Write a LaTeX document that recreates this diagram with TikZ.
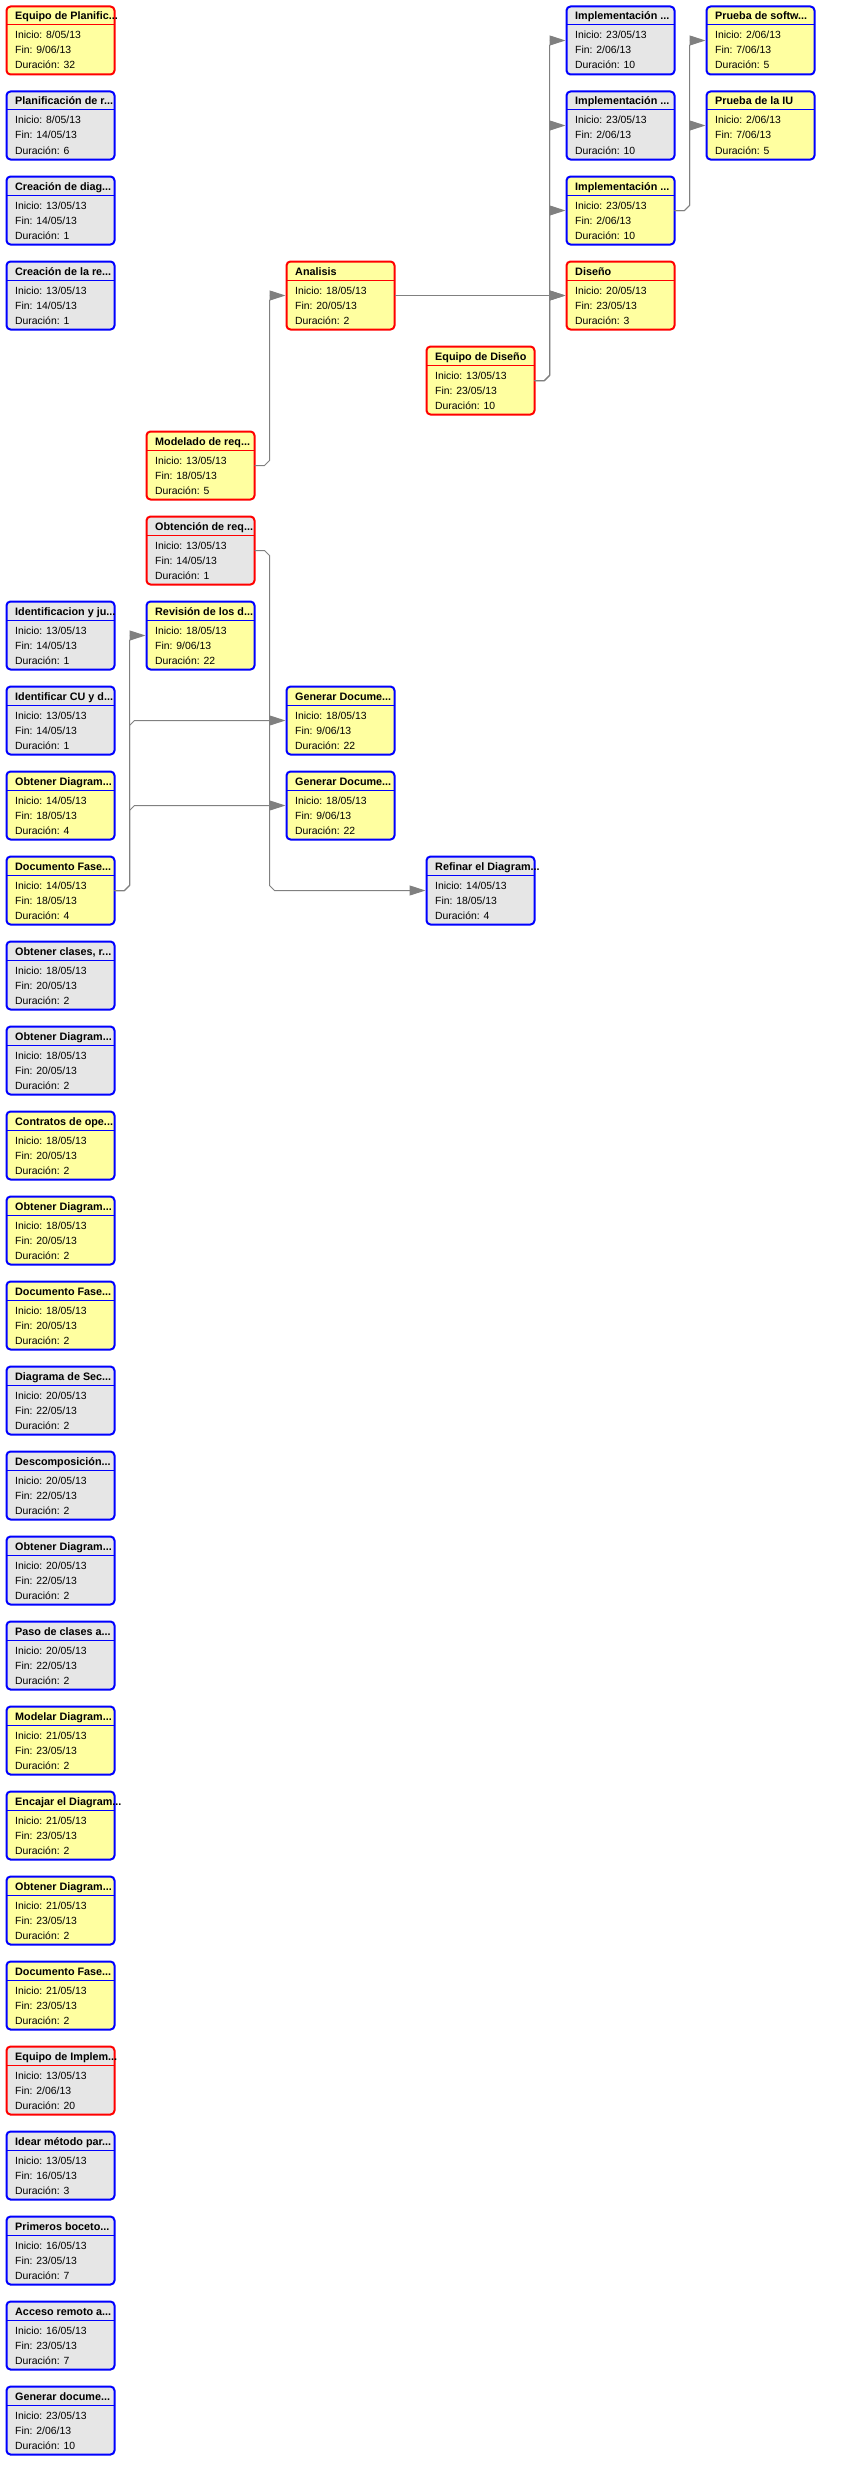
\documentclass[tikz,border=0pt]{standalone}
\usepackage{fontspec}
\setmainfont{Liberation Sans}
\usetikzlibrary{calc,arrows.meta}

\definecolor{taskyellow}{RGB}{255,255,160}
\definecolor{taskgray}{RGB}{230,230,230}
\definecolor{critred}{RGB}{255,0,0}
\definecolor{normblue}{RGB}{0,0,255}
\definecolor{linkgray}{RGB}{128,128,128}

\tikzset{
  taskframe/.style={rectangle, rounded corners=4pt, line width=2pt,
    minimum width=108pt, minimum height=68pt, inner sep=0pt, outer sep=0pt},
  taskhead/.style={anchor=base west, inner sep=0pt,
    font=\fontsize{10.8pt}{12pt}\selectfont\bfseries},
  taskline/.style={anchor=base west, inner sep=0pt,
    font=\fontsize{10.4pt}{12pt}\selectfont},
  linkline/.style={draw=linkgray, line width=1pt,
    -{Triangle[length=16pt,width=10pt]}, shorten >=1pt}
}

% #1 name, #2 column, #3 row, #4 fill, #5 frame colour,
% #6 title, #7 start, #8 finish, #9 duration
\newcommand{\pertnode}[9]{%
  \node[taskframe, fill=#4, draw=#5, anchor=north west] (#1)
    at ({6.5+140*#2},{6.5+85*#3}) {};
  \draw[draw=#5, line width=1pt]
    ([yshift=-18.5pt]#1.north west) -- ([yshift=-18.5pt]#1.north east);
  \node[taskhead] at ([xshift=8.5pt,yshift=-13.5pt]#1.north west) {#6};
  \node[taskline] at ([xshift=8.5pt,yshift=-32.5pt]#1.north west) {Inicio: #7};
  \node[taskline] at ([xshift=8.5pt,yshift=-47.5pt]#1.north west) {Fin: #8};
  \node[taskline] at ([xshift=8.5pt,yshift=-62.5pt]#1.north west) {Duración: #9};
}

% dependency: out of the right side, bevelled turn, vertical run, into the left side
\newcommand{\pertlink}[2]{%
  \draw[linkline] let \p1=(#1.east), \p2=(#2.west), \n1={sign(\y2-\y1)} in
    (\p1) -- ({\x1+10pt},{\y1}) -- ({\x1+15pt},{\y1+5pt*\n1})
    -- ({\x1+15pt},{\y2-5pt*\n1}) -- ({\x1+20pt},{\y2}) -- (\p2);
}

\begin{document}
\begin{tikzpicture}[x=1pt,y=-1pt]
\fill[white] (0,0) rectangle (845,2470);
\useasboundingbox (0,0) rectangle (845,2470);

% column 0
\pertnode{ep}{0}{0}{taskyellow}{critred}{Equipo de Planific...}{8/05/13}{9/06/13}{32}
\pertnode{pl}{0}{1}{taskgray}{normblue}{Planificación de r...}{8/05/13}{14/05/13}{6}
\pertnode{cd}{0}{2}{taskgray}{normblue}{Creación de diag...}{13/05/13}{14/05/13}{1}
\pertnode{cr}{0}{3}{taskgray}{normblue}{Creación de la re...}{13/05/13}{14/05/13}{1}
\pertnode{ij}{0}{7}{taskgray}{normblue}{Identificacion y ju...}{13/05/13}{14/05/13}{1}
\pertnode{icu}{0}{8}{taskgray}{normblue}{Identificar CU y d...}{13/05/13}{14/05/13}{1}
\pertnode{oda}{0}{9}{taskyellow}{normblue}{Obtener Diagram...}{14/05/13}{18/05/13}{4}
\pertnode{dfa}{0}{10}{taskyellow}{normblue}{Documento Fase...}{14/05/13}{18/05/13}{4}
\pertnode{oc}{0}{11}{taskgray}{normblue}{Obtener clases, r...}{18/05/13}{20/05/13}{2}
\pertnode{odb}{0}{12}{taskgray}{normblue}{Obtener Diagram...}{18/05/13}{20/05/13}{2}
\pertnode{co}{0}{13}{taskyellow}{normblue}{Contratos de ope...}{18/05/13}{20/05/13}{2}
\pertnode{odc}{0}{14}{taskyellow}{normblue}{Obtener Diagram...}{18/05/13}{20/05/13}{2}
\pertnode{dfb}{0}{15}{taskyellow}{normblue}{Documento Fase...}{18/05/13}{20/05/13}{2}
\pertnode{ds}{0}{16}{taskgray}{normblue}{Diagrama de Sec...}{20/05/13}{22/05/13}{2}
\pertnode{dc}{0}{17}{taskgray}{normblue}{Descomposición...}{20/05/13}{22/05/13}{2}
\pertnode{odd}{0}{18}{taskgray}{normblue}{Obtener Diagram...}{20/05/13}{22/05/13}{2}
\pertnode{pc}{0}{19}{taskgray}{normblue}{Paso de clases a...}{20/05/13}{22/05/13}{2}
\pertnode{md}{0}{20}{taskyellow}{normblue}{Modelar Diagram...}{21/05/13}{23/05/13}{2}
\pertnode{ed}{0}{21}{taskyellow}{normblue}{Encajar el Diagram...}{21/05/13}{23/05/13}{2}
\pertnode{ode}{0}{22}{taskyellow}{normblue}{Obtener Diagram...}{21/05/13}{23/05/13}{2}
\pertnode{dfc}{0}{23}{taskyellow}{normblue}{Documento Fase...}{21/05/13}{23/05/13}{2}
\pertnode{ei}{0}{24}{taskgray}{critred}{Equipo de Implem...}{13/05/13}{2/06/13}{20}
\pertnode{im}{0}{25}{taskgray}{normblue}{Idear método par...}{13/05/13}{16/05/13}{3}
\pertnode{pb}{0}{26}{taskgray}{normblue}{Primeros boceto...}{16/05/13}{23/05/13}{7}
\pertnode{ar}{0}{27}{taskgray}{normblue}{Acceso remoto a...}{16/05/13}{23/05/13}{7}
\pertnode{gdoc}{0}{28}{taskgray}{normblue}{Generar docume...}{23/05/13}{2/06/13}{10}

% column 1
\pertnode{mr}{1}{5}{taskyellow}{critred}{Modelado de req...}{13/05/13}{18/05/13}{5}
\pertnode{obr}{1}{6}{taskgray}{critred}{Obtención de req...}{13/05/13}{14/05/13}{1}
\pertnode{rv}{1}{7}{taskyellow}{normblue}{Revisión de los d...}{18/05/13}{9/06/13}{22}

% column 2
\pertnode{an}{2}{3}{taskyellow}{critred}{Analisis}{18/05/13}{20/05/13}{2}
\pertnode{gda}{2}{8}{taskyellow}{normblue}{Generar Docume...}{18/05/13}{9/06/13}{22}
\pertnode{gdb}{2}{9}{taskyellow}{normblue}{Generar Docume...}{18/05/13}{9/06/13}{22}

% column 3
\pertnode{eds}{3}{4}{taskyellow}{critred}{Equipo de Diseño}{13/05/13}{23/05/13}{10}
\pertnode{rf}{3}{10}{taskgray}{normblue}{Refinar el Diagram...}{14/05/13}{18/05/13}{4}

% column 4
\pertnode{ima}{4}{0}{taskgray}{normblue}{Implementación ...}{23/05/13}{2/06/13}{10}
\pertnode{imb}{4}{1}{taskgray}{normblue}{Implementación ...}{23/05/13}{2/06/13}{10}
\pertnode{imc}{4}{2}{taskyellow}{normblue}{Implementación ...}{23/05/13}{2/06/13}{10}
\pertnode{dis}{4}{3}{taskyellow}{critred}{Diseño}{20/05/13}{23/05/13}{3}

% column 5
\pertnode{ps}{5}{0}{taskyellow}{normblue}{Prueba de softw...}{2/06/13}{7/06/13}{5}
\pertnode{piu}{5}{1}{taskyellow}{normblue}{Prueba de la IU}{2/06/13}{7/06/13}{5}

% dependencies
\pertlink{dfa}{rv}
\pertlink{dfa}{gda}
\pertlink{dfa}{gdb}
\pertlink{mr}{an}
\pertlink{obr}{rf}
\pertlink{an}{dis}
\pertlink{eds}{ima}
\pertlink{eds}{imb}
\pertlink{eds}{imc}
\pertlink{eds}{dis}
\pertlink{imc}{ps}
\pertlink{imc}{piu}
\end{tikzpicture}
\end{document}
